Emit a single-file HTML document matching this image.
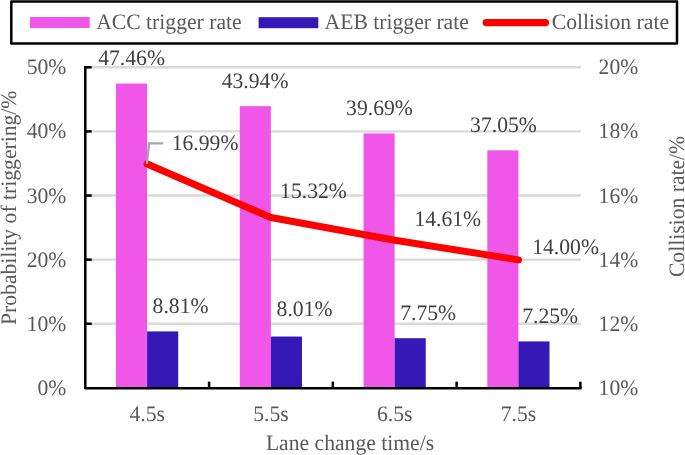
<!DOCTYPE html>
<html><head><meta charset="utf-8"><title>chart</title>
<style>html,body{margin:0;padding:0;background:#fff}body{width:685px;height:455px;overflow:hidden}svg{will-change:transform}text{text-rendering:geometricPrecision}</style></head>
<body>
<svg width="685" height="455" viewBox="0 0 685 455" style="display:block">
<rect width="685" height="455" fill="#fff"/>
<line x1="85.3" y1="323.78" x2="581.0" y2="323.78" stroke="#D9D9D9" stroke-width="2.4"/>
<line x1="85.3" y1="259.66" x2="581.0" y2="259.66" stroke="#D9D9D9" stroke-width="2.4"/>
<line x1="85.3" y1="195.54" x2="581.0" y2="195.54" stroke="#D9D9D9" stroke-width="2.4"/>
<line x1="85.3" y1="131.42" x2="581.0" y2="131.42" stroke="#D9D9D9" stroke-width="2.4"/>
<line x1="85.3" y1="67.30" x2="581.0" y2="67.30" stroke="#D9D9D9" stroke-width="2.4"/>
<rect x="116.00" y="83.59" width="31.1" height="304.56" fill="#F056E8"/>
<rect x="147.10" y="331.41" width="31.1" height="56.74" fill="#3519B7"/>
<rect x="239.77" y="106.16" width="31.1" height="281.99" fill="#F056E8"/>
<rect x="270.88" y="336.54" width="31.1" height="51.61" fill="#3519B7"/>
<rect x="363.55" y="133.41" width="31.1" height="254.74" fill="#F056E8"/>
<rect x="394.65" y="338.21" width="31.1" height="49.94" fill="#3519B7"/>
<rect x="487.32" y="150.34" width="31.1" height="237.81" fill="#F056E8"/>
<rect x="518.42" y="341.41" width="31.1" height="46.74" fill="#3519B7"/>
<g stroke="#000" stroke-width="2.5" fill="none" stroke-linecap="butt" stroke-linejoin="round">
<path d="M85.3 66.1 V388.15 H581.6"/>
<path d="M85.3 323.78 h6.4"/>
<path d="M85.3 259.66 h6.4"/>
<path d="M85.3 195.54 h6.4"/>
<path d="M85.3 131.42 h6.4"/>
<path d="M85.3 67.30 h6.4"/>
<path d="M209.07 388.15 v-6.5"/>
<path d="M332.85 388.15 v-6.5"/>
<path d="M456.62 388.15 v-6.5"/>
<path d="M580.40 388.15 v-6.5"/>
</g>
<polyline points="147.19,164.00 270.96,217.54 394.74,240.30 518.51,259.86" fill="none" stroke="#FF0000" stroke-width="7" stroke-linecap="round" stroke-linejoin="round"/>
<path d="M146.9 164 L149.1 143.4 H163.1" stroke="#A6A6A6" stroke-width="2.3" fill="none" stroke-linejoin="miter"/>
<rect x="11.3" y="1.5" width="665.7" height="42" fill="#fff" stroke="#000" stroke-width="2.5" stroke-linejoin="round"/>
<rect x="30" y="17" width="59.7" height="11" fill="#F056E8"/>
<rect x="258.6" y="17.2" width="59.7" height="11" fill="#3519B7"/>
<line x1="486.2" y1="22.6" x2="545.5" y2="22.6" stroke="#FF0000" stroke-width="7.2" stroke-linecap="round"/>
<g font-family="'Liberation Serif', 'Times New Roman', serif" font-size="21.65px" fill="#595959">
<text transform="translate(96.20 29.20) scale(1 1.02)">ACC trigger rate</text>
<text transform="translate(324.60 29.20) scale(1 1.02)">AEB trigger rate</text>
<text transform="translate(551.80 29.20) scale(1 1.02)">Collision rate</text>
<text transform="translate(66.30 394.90) scale(1 1.02)" text-anchor="end">0%</text>
<text transform="translate(66.30 330.78) scale(1 1.02)" text-anchor="end">10%</text>
<text transform="translate(66.30 266.66) scale(1 1.02)" text-anchor="end">20%</text>
<text transform="translate(66.30 202.54) scale(1 1.02)" text-anchor="end">30%</text>
<text transform="translate(66.30 138.42) scale(1 1.02)" text-anchor="end">40%</text>
<text transform="translate(66.30 74.30) scale(1 1.02)" text-anchor="end">50%</text>
<text transform="translate(598.60 394.90) scale(1 1.02)">10%</text>
<text transform="translate(598.60 330.78) scale(1 1.02)">12%</text>
<text transform="translate(598.60 266.66) scale(1 1.02)">14%</text>
<text transform="translate(598.60 202.54) scale(1 1.02)">16%</text>
<text transform="translate(598.60 138.42) scale(1 1.02)">18%</text>
<text transform="translate(598.60 74.30) scale(1 1.02)">20%</text>
<text transform="translate(147.19 420.70) scale(1 1.02)" text-anchor="middle">4.5s</text>
<text transform="translate(270.96 420.70) scale(1 1.02)" text-anchor="middle">5.5s</text>
<text transform="translate(394.74 420.70) scale(1 1.02)" text-anchor="middle">6.5s</text>
<text transform="translate(518.51 420.70) scale(1 1.02)" text-anchor="middle">7.5s</text>
<text transform="translate(350.00 449.90) scale(1 1.02)" text-anchor="middle">Lane change time/s</text>
<text transform="translate(15.80 325.00) rotate(-90) scale(1 1.02)">Probability of triggering/%</text>
<text transform="translate(684.30 277.10) rotate(-90) scale(1 1.02)">Collision rate/%</text>
</g>
<g font-family="'Liberation Serif', 'Times New Roman', serif" font-size="21.65px" fill="#404040">
<text transform="translate(98.20 64.50) scale(1 1.02)">47.46%</text>
<text transform="translate(221.70 87.50) scale(1 1.02)">43.94%</text>
<text transform="translate(346.10 115.20) scale(1 1.02)">39.69%</text>
<text transform="translate(470.10 131.50) scale(1 1.02)">37.05%</text>
<text transform="translate(152.60 313.00) scale(1 1.02)">8.81%</text>
<text transform="translate(276.60 315.60) scale(1 1.02)">8.01%</text>
<text transform="translate(400.20 320.30) scale(1 1.02)">7.75%</text>
<text transform="translate(522.20 323.00) scale(1 1.02)">7.25%</text>
<text transform="translate(171.70 150.00) scale(1 1.02)">16.99%</text>
<text transform="translate(280.10 198.30) scale(1 1.02)">15.32%</text>
<text transform="translate(414.40 226.00) scale(1 1.02)">14.61%</text>
<text transform="translate(532.20 254.10) scale(1 1.02)">14.00%</text>
</g>
</svg>
</body></html>
